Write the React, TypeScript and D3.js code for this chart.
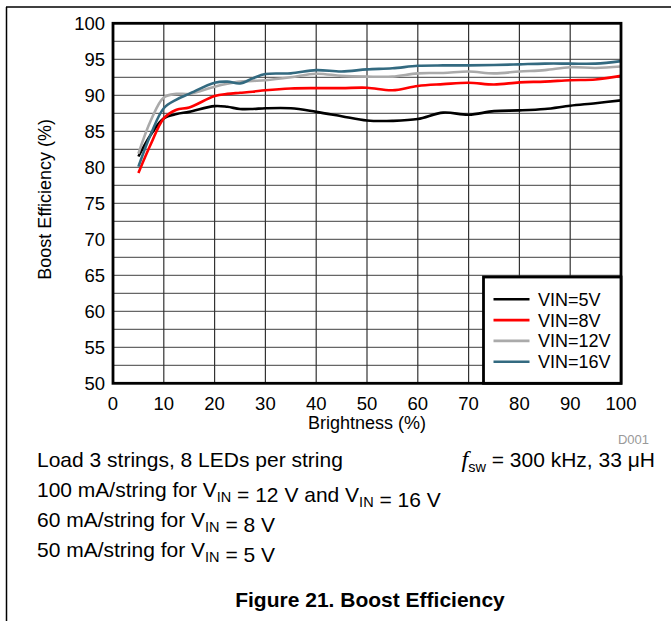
import React from "react";
import * as d3 from "d3";

// Brightness (%) sample points
const brightness = [5, 7.5, 10, 12.5, 15, 20, 22.5, 25, 27.5, 30, 35, 40, 45, 50, 55, 60, 65, 70, 75, 80, 85, 90, 95, 100];

// Boost efficiency (%) per input voltage
const vin5 = [81.5, 84.6, 86.8, 87.4, 87.7, 88.5, 88.4, 88.1, 88.1, 88.2, 88.2, 87.7, 87.1, 86.5, 86.45, 86.7, 87.6, 87.3, 87.8, 87.9, 88.1, 88.55, 88.9, 89.3];
const vin8 = [79.2, 83.3, 86.8, 88.0, 88.3, 89.9, 90.2, 90.35, 90.5, 90.7, 90.95, 91.0, 91.0, 91.05, 90.7, 91.3, 91.55, 91.75, 91.5, 91.8, 91.9, 92.1, 92.2, 92.7];
const vin12 = [81.9, 86.6, 89.7, 90.2, 90.2, 91.2, 91.6, 91.9, 92.0, 92.1, 92.5, 93.0, 92.7, 92.6, 92.6, 93.05, 93.1, 93.3, 93.05, 93.3, 93.5, 93.9, 93.8, 94.0];
const vin16 = [80.1, 84.7, 88.2, 89.4, 90.2, 91.75, 91.9, 91.65, 92.35, 92.95, 93.05, 93.5, 93.3, 93.6, 93.75, 94.1, 94.15, 94.15, 94.2, 94.3, 94.4, 94.4, 94.4, 94.75];

const seriesNames = ["VIN=5V", "VIN=8V", "VIN=12V", "VIN=16V"];
const seriesColors = ["#000000", "#ff0000", "#aaaaaa", "#336a80"];
const seriesValues = [vin5, vin8, vin12, vin16];

const xTicks = [0, 10, 20, 30, 40, 50, 60, 70, 80, 90, 100];
const yTicks = [50, 55, 60, 65, 70, 75, 80, 85, 90, 95, 100];
const yGrid = d3.range(50, 100.01, 2.5);

const font = "Arial, 'Liberation Sans', Helvetica, sans-serif";

export default function App() {
  const width = 671;
  const height = 621;
  const plot = { left: 113, right: 621, top: 23.3, bottom: 383.3 };

  const x = d3.scaleLinear().domain([0, 100]).range([plot.left, plot.right]);
  const y = d3.scaleLinear().domain([50, 100]).range([plot.bottom, plot.top]);

  const line = d3
    .line<number>()
    .x((_, i) => x(brightness[i]))
    .y((d) => y(d))
    .curve(d3.curveCatmullRom.alpha(0.5));

  const legend = { left: 483.5, top: 277, right: plot.right, bottom: plot.bottom };

  // subscript helper for V_IN
  const sub = (s: string) => (
    <>
      <tspan dy={5} fontSize={14.5}>{s}</tspan>
      <tspan dy={-5}></tspan>
    </>
  );

  return (
    <svg
      width={width}
      height={height}
      style={{ position: "absolute", left: 0, top: 0, background: "#fff" }}
      fontFamily={font}
    >
      <rect x={0} y={0} width={width} height={height} fill="#fff" />
      {/* frame */}
      <line x1={6} y1={7} x2={width} y2={7} stroke="#000" strokeWidth={1.5} />
      <line x1={6.5} y1={7} x2={6.5} y2={height} stroke="#000" strokeWidth={1.5} />

      {/* grid */}
      {yGrid.map((v) => (
        <line key={"h" + v} x1={plot.left} x2={plot.right} y1={y(v)} y2={y(v)} stroke="#666" strokeWidth={1.2} />
      ))}
      {xTicks.map((t) => (
        <line key={"v" + t} x1={x(t)} x2={x(t)} y1={plot.top} y2={plot.bottom} stroke="#333" strokeWidth={1.2} />
      ))}

      {/* series */}
      {seriesValues.map((vals, i) => (
        <path key={seriesNames[i]} d={line(vals) ?? ""} fill="none" stroke={seriesColors[i]} strokeWidth={2.6} />
      ))}

      {/* plot border */}
      <rect
        x={plot.left}
        y={plot.top}
        width={plot.right - plot.left}
        height={plot.bottom - plot.top}
        fill="none"
        stroke="#000"
        strokeWidth={2.8}
      />

      {/* legend */}
      <rect
        x={legend.left}
        y={legend.top}
        width={legend.right - legend.left}
        height={legend.bottom - legend.top}
        fill="#fff"
        stroke="#000"
        strokeWidth={2.8}
      />
      {seriesNames.map((name, i) => {
        const cy = 299.3 + i * 20.8;
        return (
          <g key={name}>
            <line x1={493.5} x2={529.5} y1={cy} y2={cy} stroke={seriesColors[i]} strokeWidth={2.6} />
            <text x={538} y={cy + 6.5} fontSize={18}>{name}</text>
          </g>
        );
      })}

      {/* axes labels */}
      {yTicks.map((t) => (
        <text key={"yl" + t} x={105} y={y(t) + 6.5} fontSize={18.5} textAnchor="end">{t}</text>
      ))}
      {xTicks.map((t) => (
        <text key={"xl" + t} x={x(t)} y={410} fontSize={18.5} textAnchor="middle">{t}</text>
      ))}
      <text x={(plot.left + plot.right) / 2} y={429} fontSize={18} textAnchor="middle">Brightness (%)</text>
      <text
        transform={`translate(51,${(plot.top + plot.bottom) / 2 - 4}) rotate(-90)`}
        fontSize={18}
        textAnchor="middle"
      >
        Boost Efficiency (%)
      </text>
      <text x={649} y={444} fontSize={13} fill="#999" textAnchor="end">D001</text>

      {/* notes */}
      <text x={37} y={466.5} fontSize={21}>Load 3 strings, 8 LEDs per string</text>
      <text x={655} y={466.5} fontSize={21} textAnchor="end">
        <tspan fontStyle="italic" fontFamily="'Liberation Serif', serif" fontSize={24}>f</tspan>
        <tspan dy={5} fontSize={14.5}>sw</tspan>
        <tspan dy={-5}> = 300 kHz, 33 μH</tspan>
      </text>
      <text x={37} y={496.5} fontSize={21}>
        100 mA/string for V{sub("IN")} = 12 V and V{sub("IN")} = 16 V
      </text>
      <text x={37} y={526.5} fontSize={21}>
        60 mA/string for V{sub("IN")} = 8 V
      </text>
      <text x={37} y={556.5} fontSize={21}>
        50 mA/string for V{sub("IN")} = 5 V
      </text>
      <text x={370} y={607} fontSize={21} fontWeight="bold" textAnchor="middle">
        Figure 21. Boost Efficiency
      </text>
    </svg>
  );
}
